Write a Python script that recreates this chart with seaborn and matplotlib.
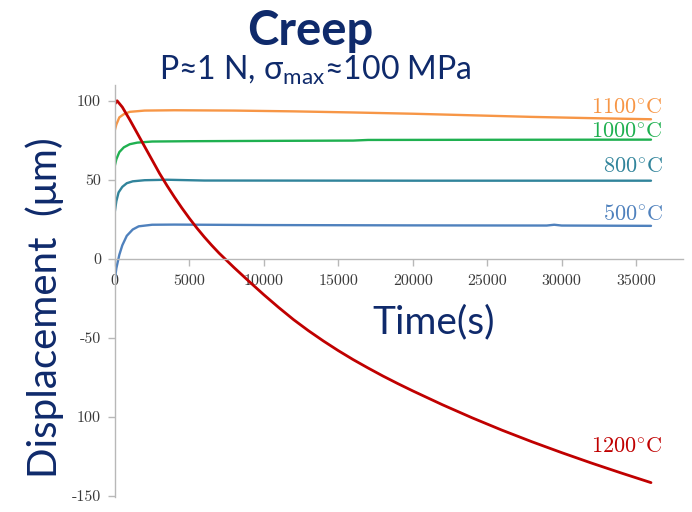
import matplotlib
matplotlib.use("Agg")
import matplotlib.pyplot as plt
import seaborn as sns
import pandas as pd

# creep curves: time (s) vs displacement (um)
t_500 = [0, 100, 300, 500, 800, 1200, 1600, 2500, 4000, 10000, 20000, 29000, 29500, 30000, 36000]
d_500 = [-13, -6, 2.5, 8.5, 14.5, 18.5, 20.5, 21.5, 21.6, 21.3, 21.1, 21.0, 21.5, 21.0, 20.8]

t_800 = [0, 100, 250, 500, 800, 1200, 2000, 3500, 6000, 20000, 36000]
d_800 = [30, 36.5, 42, 45.5, 47.8, 49, 49.7, 50, 49.5, 49.4, 49.4]

t_1000 = [0, 100, 300, 600, 1000, 1500, 2500, 5000, 10000, 16000, 17000, 25000, 36000]
d_1000 = [59, 63, 67.5, 70.5, 72.5, 73.5, 74.2, 74.4, 74.6, 74.8, 75.2, 75.3, 75.4]

t_1100 = [0, 100, 300, 600, 1000, 2000, 4000, 8000, 12000, 16000, 20000, 24000, 28000, 32000, 36000]
d_1100 = [81.5, 85, 89.5, 91.5, 93, 93.8, 94, 93.8, 93.3, 92.6, 91.8, 90.8, 89.8, 89, 88.3]

t_1200 = [0, 150, 500, 1000, 1500, 2000, 2500, 3000, 3500, 4000, 4500, 5000, 5500, 6000,
          6500, 7000, 8000, 9000, 10000, 11000, 12000, 13000, 14000, 15000, 16000, 17000,
          18000, 19000, 20000, 22000, 24000, 26000, 28000, 30000, 32000, 34000, 36000]
d_1200 = [98, 100, 96, 88, 79.5, 71, 62.5, 54, 46.3, 39.0, 32.1, 25.6, 19.5, 13.8,
          8.5, 3.5, -5.6, -14.3, -22.8, -30.9, -38.6, -45.6, -52.1, -58.2, -63.9, -69.2,
          -74.3, -79.1, -83.7, -92.5, -100.8, -108.6, -115.9, -122.8, -129.4, -135.7, -141.8]

temps = ["500", "800", "1000", "1100", "1200"]
colors = ["#4f81bd", "#31849b", "#1fb050", "#f79646", "#c00000"]

x_ticks = [0, 5000, 10000, 15000, 20000, 25000, 30000, 35000]
y_ticks = [100, 50, 0, -50, -100, -150]
y_tick_labels = ["100", "50", "0", "-50", "100", "-150"]

navy = "#0f2a6b"

frames = []
for temp, t, d in zip(temps, [t_500, t_800, t_1000, t_1100, t_1200],
                      [d_500, d_800, d_1000, d_1100, d_1200]):
    frames.append(pd.DataFrame({"time": t, "disp": d, "temp": temp}))
df = pd.concat(frames, ignore_index=True)

sns.set_style("white")
plt.rcParams["mathtext.fontset"] = "custom"
plt.rcParams["mathtext.rm"] = "Lato"
plt.rcParams["mathtext.it"] = "Lato:italic"

fig = plt.figure(figsize=(6.92, 5.12), dpi=100)
ax = fig.add_axes([0.166, 0.029, 0.821, 0.805])

sns.lineplot(data=df, x="time", y="disp", hue="temp", hue_order=temps,
             palette=dict(zip(temps, colors)), estimator=None, sort=False,
             linewidth=1.7, legend=False, ax=ax)
ax.lines[-1].set_linewidth(2.0)

ax.set_xlim(0, 38150)
ax.set_ylim(-151, 110)
ax.spines["bottom"].set_position(("data", 0))
ax.spines["top"].set_visible(False)
ax.spines["right"].set_visible(False)
for s in ["left", "bottom"]:
    ax.spines[s].set_color("#b8b8b8")
    ax.spines[s].set_linewidth(1.0)

ax.set_xticks(x_ticks)
ax.set_xticklabels([str(v) for v in x_ticks])
ax.set_yticks(y_ticks)
ax.set_yticklabels(y_tick_labels)
ax.tick_params(axis="both", direction="out", color="#b8b8b8", labelcolor="#3a3a3a",
               labelsize=11.5, length=5, width=1.0, bottom=True, left=True)
ax.tick_params(axis="x", pad=6)
ax.tick_params(axis="y", pad=5)
for lab in ax.get_xticklabels() + ax.get_yticklabels():
    lab.set_family("cmr10")
ax.set_xlabel("")
ax.set_ylabel("")

# temperature labels at the right end of each curve
label_y = [28.5, 58, 80.5, 95.5, -119.5]
for temp, c, y in zip(temps, colors, label_y):
    ax.text(36800, y, r"$\mathrm{" + temp + r"^{\circ}C}$", color=c, fontsize=16,
            ha="right", va="center", math_fontfamily="cm")

fig.text(0.627, 0.35, "Time(s)", color=navy, fontsize=28,
         family=["Lato", "DejaVu Sans"], ha="center", va="baseline")

fig.text(0.448, 0.912, "Creep", color=navy, fontsize=34, fontweight="bold",
         family=["Lato", "DejaVu Sans"], ha="center", va="baseline")
fig.text(0.455, 0.844, r"P≈1 N, σ$_{\mathrm{max}}$≈100 MPa", color=navy, fontsize=23,
         family=["Lato", "DejaVu Sans"], ha="center", va="baseline")
fig.text(0.065, 0.40, "Displacement  (μm)", color=navy, fontsize=29, rotation=90,
         family=["Lato", "DejaVu Sans"], ha="center", va="center")

fig.savefig("out.png", dpi=100)
